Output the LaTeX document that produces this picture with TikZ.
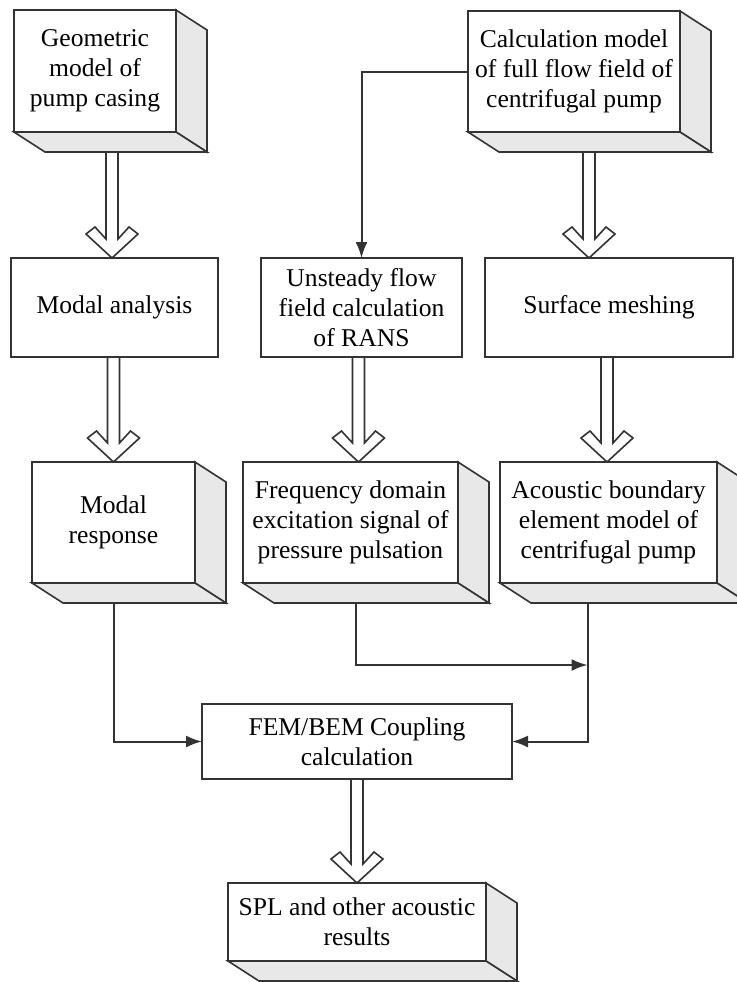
\documentclass[tikz,border=0pt]{standalone}
\usepackage{fontspec}
\setmainfont{Liberation Serif}
\usetikzlibrary{arrows.meta,calc}

% open block arrow between two boxes
\newcommand{\fatarrow}[2]{%
  \draw[hollow] let \p1=#1, \p2=#2 in
    (\x1-3pt,\y1) -- (\x1-3pt,\y2+9.5pt) -- (\x1-8.5pt,\y2+15.5pt) -- (\x1-13pt,\y2+12pt)
    -- (\x1,\y2) -- (\x1+13pt,\y2+12pt) -- (\x1+8.5pt,\y2+15.5pt) -- (\x1+3pt,\y2+9.5pt)
    -- (\x1+3pt,\y1) -- cycle;}

\begin{document}
\begin{tikzpicture}[x=0.5pt, y=-0.5pt,
    box/.style={draw=black!80, line width=0.8pt, fill=white, align=center, inner sep=2pt, outer sep=0pt, font=\fontsize{12.8}{15}\selectfont},
    side/.style={draw=black!80, line width=0.8pt, fill=black!9, line join=miter},
    hollow/.style={draw=black!80, line width=0.8pt, fill=white, line join=miter},
    link/.style={draw=black!80, line width=1pt, -{Latex[length=8pt,width=6pt]}}]
		\fill[white] (0,0) rectangle (736,982);
		\useasboundingbox (0,0) rectangle (736,982);
		\node[box, minimum width=81pt, minimum height=61pt](geom) at (95,71){Geometric\\ model of\\ pump casing};
		\node[box, minimum width=106pt, minimum height=60.5pt](calc) at (574,71.5){Calculation model\\ of full flow field of\\ centrifugal pump};
		\node[box, minimum width=103.5pt, minimum height=49.5pt](modal) at (114.5,307.5){Modal analysis};
		\node[box, minimum width=100.5pt, minimum height=49.5pt](unsteady) at (361.5,307.5){Unsteady flow\\ field calculation\\ of RANS};
		\node[box, minimum width=124pt, minimum height=49.5pt](mesh) at (609,307.5){Surface meshing};
		\node[box, minimum width=81.5pt, minimum height=60.5pt](response) at (113.5,522.5){Modal\\ response};
		\node[box, minimum width=107.5pt, minimum height=60.5pt](freq) at (350.5,522.5){Frequency domain\\ excitation signal of\\ pressure pulsation};
		\node[box, minimum width=108.5pt, minimum height=60.5pt](bem) at (608.5,522.5){Acoustic boundary\\ element model of\\ centrifugal pump};
		\node[box, minimum width=155pt, minimum height=37.5pt](coupling) at (357,741.5){FEM/BEM Coupling\\ calculation};
		\node[box, minimum width=129pt, minimum height=39pt](spl) at (357,922){SPL and other acoustic\\ results};
		% depth faces of the 3d boxes
		\foreach \n in {geom,calc,response,freq,bem,spl}{
			\filldraw[side] (\n.north east) -- ++(31,20) -- ($(\n.south east)+(31,20)$) -- (\n.south east) -- cycle;
			\filldraw[side] (\n.south west) -- ++(31,20) -- ($(\n.south east)+(31,20)$) -- (\n.south east) -- cycle;
		}
		\fatarrow{($(geom.south)+(17,20)$)}{(modal.north)}
		\fatarrow{($(calc.south)+(15,20)$)}{(mesh.north)}
		\fatarrow{($(modal.south)+(-1,0)$)}{(response.north)}
		\fatarrow{($(unsteady.south)+(-3,0)$)}{(freq.north)}
		\fatarrow{($(mesh.south)+(-2,0)$)}{(bem.north)}
		\fatarrow{(coupling.south)}{(spl.north)}
		\coordinate (merge) at ($(bem.south)+(-21,82)$);
		\draw[link] (calc.west) -| (unsteady.north);
		\draw[link] ($(response.south)+(0,20)$) |- (coupling.west);
		\draw[link] ($(freq.south)+(5,20)$) |- (merge);
		\draw[link] ($(bem.south)+(-21,20)$) |- (coupling.east);
	\end{tikzpicture}
\end{document}
